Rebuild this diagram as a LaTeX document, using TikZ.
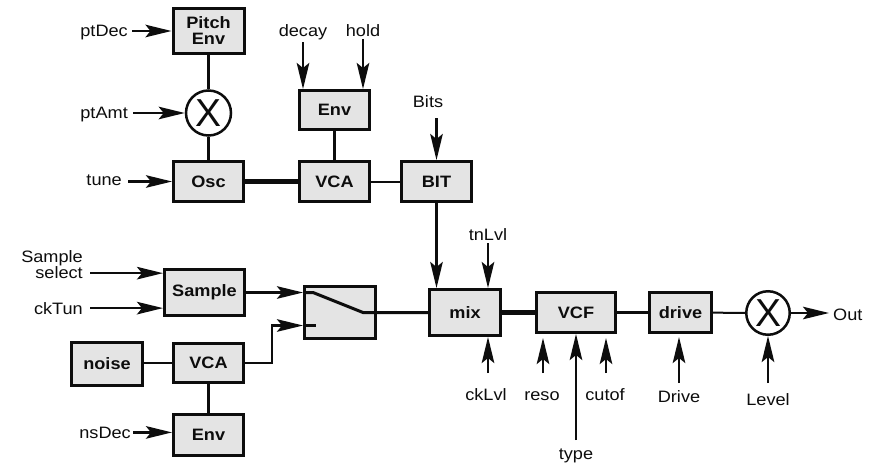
\documentclass[tikz,border=0pt]{standalone}
\usepackage{fontspec}
\setmainfont{Liberation Sans}[FakeStretch=1.1]
\newfontfamily\bigfont{Liberation Sans}
\usetikzlibrary{arrows.meta,calc}
\definecolor{boxgray}{HTML}{E4E4E4}
\definecolor{ink}{HTML}{0D0D0D}
\begin{document}
\begin{tikzpicture}[x=1pt,y=-1pt,
  lbl/.style={font=\fontsize{16.5}{15}\selectfont, inner sep=0pt, text=ink},
  box/.style={draw=ink, line width=3pt, fill=boxgray, font=\fontsize{16.5}{16}\selectfont\bfseries, inner sep=0pt, align=center, text=ink},
  mult/.style={circle, draw=ink, line width=2.5pt, fill=white, minimum size=45pt, inner sep=0pt, font=\fontsize{39}{39}\bigfont, text=ink},
  arr/.style={draw=ink, line width=2.5pt, -{Stealth[length=26pt,width=12.5pt,inset=5pt]}},
  wire/.style={draw=ink, line width=2.5pt},
  thinwire/.style={draw=ink, line width=2pt},
  thickwire/.style={draw=ink, line width=4.5pt}]
\fill[white] (0,0) rectangle (877,466);
\useasboundingbox (0,0) rectangle (877,466);

% boxes
\node[box, minimum width=71pt, minimum height=45pt] (pitch) at (208.5,31) {Pitch\\Env};
\node[mult] (m1) at (208.5,113) {X};
\node[box, minimum width=70pt, minimum height=40pt] (osc) at (208.5,181.5) {Osc};
\node[box, minimum width=70pt, minimum height=39pt] (env1) at (334.5,110) {Env};
\node[box, minimum width=70pt, minimum height=40pt] (vca1) at (334.5,181.5) {VCA};
\node[box, minimum width=70pt, minimum height=40pt] (bit) at (436.5,181.5) {BIT};
\node[box, minimum width=80pt, minimum height=46pt] (sample) at (204.5,292.5) {Sample};
\node[box, minimum width=71pt, minimum height=52pt] (sw) at (340,312.5) {};
\node[box, minimum width=71pt, minimum height=43pt] (noise) at (107,364) {noise};
\node[box, minimum width=70pt, minimum height=39pt] (vca2) at (208.5,363) {VCA};
\node[box, minimum width=70pt, minimum height=41pt] (env2) at (208.5,435) {Env};
\node[box, minimum width=71pt, minimum height=46pt] (mix) at (465,312.5) {mix};
\node[box, minimum width=79pt, minimum height=40pt] (vcf) at (576,312.5) {VCF};
\node[box, minimum width=62pt, minimum height=40pt] (drive) at (680.5,312.5) {drive};
\node[mult, minimum size=43.5pt] (m2) at (768,313) {X};

% labels
\node[lbl, anchor=base east] (ptdec) at (128,36.5) {ptDec};
\node[lbl, anchor=base east] (ptamt) at (128,118.5) {ptAmt};
\node[lbl, anchor=base east] (tune) at (122,185.5) {tune};
\node[lbl, anchor=base] (decay) at (303,36.5) {decay};
\node[lbl, anchor=base] (hold) at (363,36.5) {hold};
\node[lbl, anchor=base] (bits) at (428,107) {Bits};
\node[lbl, anchor=east, align=right] (ssel) at (83,264.7) {Sample\\select};
\node[lbl, anchor=base east] (cktun) at (83,314) {ckTun};
\node[lbl, anchor=base east] (nsdec) at (131,438) {nsDec};
\node[lbl, anchor=base] (tnlvl) at (488,240) {tnLvl};
\node[lbl, anchor=base] (cklvl) at (486,400) {ckLvl};
\node[lbl, anchor=base] (reso) at (542,400) {reso};
\node[lbl, anchor=base] (cutof) at (605,400) {cutof};
\node[lbl, anchor=base] (type) at (576,459) {type};
\node[lbl, anchor=base] (drivelbl) at (679,402.5) {Drive};
\node[lbl, anchor=base] (level) at (768,405) {Level};
\node[lbl, anchor=base west] (out) at (833,320) {Out};

% wires
\draw[wire] (pitch) -- (m1);
\draw[wire] (m1) -- (osc);
\draw[thickwire] (osc) -- (vca1);
\draw[wire] (env1) -- (vca1);
\draw[thinwire] (vca1) -- (bit);
\draw[thickwire] (mix) -- (vcf);
\draw[wire] (vcf) -- (drive);
\draw[thinwire] (drive) -- (m2);
\draw[wire] (noise.east |- vca2.west) -- (vca2.west);
\draw[wire] (vca2) -- (env2);

% switch
\coordinate (swin1) at (sample.east -| sw.west);
\coordinate (swin2) at ($(sw.west)+(0,13)$);
\draw[arr] (sample.east) -- (swin1);
\draw[wire, line width=3pt] (swin1) -- ++(10,0) -- ($(sw.center)+(23,0)$) -- (mix.west);
\draw[arr] (vca2.east) -- ++(27,0) |- (swin2);
\draw[wire] (swin2) -- ++(13,0);

% input arrows
\draw[arr] ($(ptdec.east |- pitch.west)+(4,0)$) -- (pitch.west);
\draw[arr] ($(ptamt.east |- m1.west)+(5,0)$) -- (m1.west);
\draw[arr] ($(tune.east |- osc.west)+(6,0)$) -- (osc.west);
\draw[arr] ($(decay.south)+(0,2)$) -- (decay.south |- env1.north);
\draw[arr] ($(hold.south)+(0,2)$) -- (hold.south |- env1.north);
\coordinate (bitsA) at ($(bits.south -| bit.north)+(0,11)$);
\draw[arr] (bitsA) -- (bit.north);
\coordinate (sselA) at ($(ssel.south east)+(7,-6)$);
\draw[arr] (sselA) -- (sselA -| sample.west);
\coordinate (cktunA) at ($(cktun.east)+(7,0)$);
\draw[arr] (cktunA) -- (cktunA -| sample.west);
\coordinate (nsdecA) at ($(nsdec.east)+(2,0)$);
\draw[arr] (nsdecA) -- (nsdecA -| env2.west);
\draw[arr] ($(tnlvl.south)+(0,3)$) -- (tnlvl.south |- mix.north);
\draw[arr] (bit.south) -- (bit.south |- mix.north);
\coordinate (cklvlA) at ($(cklvl.base)+(2,-27)$);
\draw[arr] (cklvlA) -- (cklvlA |- mix.south);
\coordinate (resoA) at ($(reso.base)+(1,-27)$);
\draw[arr, shorten >=4pt] (resoA) -- (resoA |- vcf.south);
\coordinate (cutofA) at ($(cutof.base)+(1,-27)$);
\draw[arr, shorten >=4pt] (cutofA) -- (cutofA |- vcf.south);
\coordinate (typeA) at ($(type.base)+(0,-19)$);
\draw[arr] (typeA) -- (typeA |- vcf.south);
\coordinate (driveA) at ($(drivelbl.base)+(0,-19.5)$);
\draw[arr, shorten >=3pt] (driveA) -- (driveA |- drive.south);
\coordinate (levelA) at ($(level.base)+(0,-22)$);
\draw[arr] (levelA) -- (m2.south);
\draw[arr, shorten >=4pt] (m2.east) -- (m2.east -| out.west);
\end{tikzpicture}
\end{document}
